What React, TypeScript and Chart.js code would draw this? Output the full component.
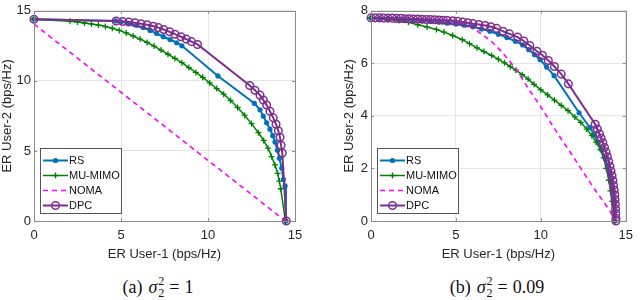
import React, { useEffect, useRef } from 'react';
import { Chart, registerables } from 'chart.js';

Chart.register(...registerables);

// ---------- data ----------
const SERIES_NAMES = ['RS', 'MU-MIMO', 'NOMA', 'DPC'];

// Panel (a): sigma_2^2 = 1
const A_RS_X = [0, 4.7, 5.0, 5.4, 5.9, 6.28, 6.67, 7.05, 7.43, 7.82, 8.2, 8.5, 10.57, 12.66, 12.99, 13.18, 13.37, 13.56, 13.72, 13.85, 13.99, 14.1, 14.24, 14.33, 14.43, 14.48];
const A_RS_Y = [14.4, 14.28, 14.22, 14.12, 13.96, 13.8, 13.6, 13.38, 13.15, 12.95, 12.72, 12.5, 10.35, 8.4, 7.94, 7.48, 7.01, 6.55, 6.09, 5.63, 5.05, 4.47, 3.77, 2.97, 2.5, 0];

const A_MU_X = [0, 2.07, 2.5, 2.9, 3.3, 3.7, 4.1, 4.5, 4.9, 5.3, 5.7, 6.1, 6.5, 6.9, 7.3, 7.7, 8.1, 8.5, 8.9, 9.3, 9.7, 10.1, 10.5, 10.9, 11.3, 11.7, 12.1, 12.5, 12.9, 13.2, 13.45, 13.65, 13.85, 14.0, 14.1, 14.18, 14.45];
const A_MU_Y = [14.4, 14.25, 14.2, 14.13, 14.06, 13.98, 13.88, 13.76, 13.6, 13.42, 13.2, 12.98, 12.74, 12.48, 12.2, 11.9, 11.6, 11.3, 10.95, 10.6, 10.25, 9.85, 9.45, 9.05, 8.6, 8.1, 7.55, 6.95, 6.3, 5.75, 5.2, 4.6, 4.0, 3.4, 2.85, 2.3, 0];

const A_NOMA_X = [0, 14.45];
const A_NOMA_Y = [14.05, 0];

const A_DPC_X = [0, 4.72, 5.1, 5.45, 5.8, 6.15, 6.5, 6.85, 7.15, 7.45, 7.8, 8.1, 8.45, 8.75, 9.05, 9.4, 12.4, 12.7, 12.99, 13.18, 13.37, 13.56, 13.75, 13.91, 14.04, 14.14, 14.2, 14.27, 14.5];
const A_DPC_Y = [14.4, 14.27, 14.24, 14.2, 14.15, 14.08, 14.0, 13.9, 13.8, 13.67, 13.5, 13.33, 13.15, 12.98, 12.8, 12.6, 9.67, 9.33, 8.98, 8.63, 8.28, 7.83, 7.36, 6.9, 6.44, 5.97, 5.4, 4.85, 0];

const A_X_TICKS = [0, 5, 10, 15];
const A_Y_TICKS = [0, 5, 10, 15];

// Panel (b): sigma_2^2 = 0.09
const B_RS_X = [0, 0.5, 1.0, 1.5, 2.0, 2.5, 3.0, 3.5, 4.0, 4.5, 5.0, 5.5, 6.0, 6.5, 7.0, 7.5, 8.0, 8.5, 8.93, 9.29, 9.63, 9.96, 10.34, 10.78, 12.25, 12.9, 13.15, 13.38, 13.58, 13.76, 13.92, 14.05, 14.15, 14.23, 14.3, 14.35];
const B_RS_Y = [7.73, 7.72, 7.71, 7.7, 7.68, 7.66, 7.63, 7.6, 7.57, 7.53, 7.5, 7.45, 7.39, 7.31, 7.22, 7.11, 6.98, 6.84, 6.7, 6.52, 6.33, 6.14, 5.86, 5.53, 4.12, 3.55, 3.28, 3.0, 2.72, 2.42, 2.1, 1.78, 1.45, 1.12, 0.78, 0];

const B_MU_X = [0, 1.0, 1.66, 2.2, 2.75, 3.3, 3.85, 4.3, 4.81, 5.38, 5.8, 6.24, 6.65, 7.1, 7.5, 7.86, 8.2, 8.53, 8.9, 9.25, 9.6, 10.0, 10.4, 10.8, 11.2, 11.6, 12.0, 12.35, 12.7, 13.0, 13.25, 13.5, 13.7, 13.85, 14.0, 14.1, 14.2, 14.3, 14.35];
const B_MU_Y = [7.73, 7.7, 7.63, 7.56, 7.47, 7.38, 7.29, 7.19, 7.06, 6.9, 6.75, 6.59, 6.45, 6.3, 6.16, 6.02, 5.88, 5.74, 5.57, 5.4, 5.2, 4.99, 4.8, 4.6, 4.4, 4.2, 3.96, 3.75, 3.5, 3.25, 3.0, 2.72, 2.4, 2.0, 1.55, 1.15, 0.75, 0.35, 0];

const B_NOMA_X = [0, 2.0, 4.0, 5.5, 6.05, 6.62, 7.1, 7.67, 8.15, 8.63, 9.3, 9.9, 10.6, 11.2, 11.8, 12.9, 14.05, 14.4];
const B_NOMA_Y = [7.73, 7.71, 7.66, 7.52, 7.32, 7.07, 6.83, 6.46, 6.09, 5.71, 5.0, 4.45, 3.72, 3.12, 2.55, 1.46, 0.4, 0];

const B_DPC_X = [0, 0.25, 0.5, 0.75, 1.0, 1.25, 1.5, 1.75, 2.0, 2.25, 2.5, 2.75, 3.0, 3.25, 3.5, 3.75, 4.0, 4.25, 4.5, 4.81, 5.1, 5.4, 5.7, 6.0, 6.35, 6.72, 7.05, 7.4, 7.77, 8.15, 8.63, 9.0, 9.35, 9.77, 10.09, 10.44, 10.8, 11.2, 11.62, 13.2, 13.32, 13.45, 13.55, 13.65, 13.75, 13.84, 13.92, 14.0, 14.07, 14.13, 14.19, 14.24, 14.28, 14.32, 14.35, 14.37, 14.39, 14.4, 14.41, 14.42, 14.42];
const B_DPC_Y = [7.73, 7.73, 7.73, 7.72, 7.72, 7.72, 7.71, 7.71, 7.7, 7.7, 7.69, 7.69, 7.68, 7.67, 7.67, 7.66, 7.65, 7.64, 7.63, 7.62, 7.6, 7.57, 7.54, 7.51, 7.48, 7.44, 7.39, 7.33, 7.22, 7.12, 7.0, 6.85, 6.68, 6.46, 6.31, 6.11, 5.88, 5.59, 5.22, 3.68, 3.5, 3.32, 3.15, 2.98, 2.8, 2.62, 2.44, 2.26, 2.08, 1.9, 1.72, 1.54, 1.36, 1.18, 1.0, 0.82, 0.64, 0.46, 0.28, 0.1, 0];

const B_X_TICKS = [0, 5, 10, 15];
const B_Y_TICKS = [0, 2, 4, 6, 8];

// ---------- styles ----------
const COLORS = ['#0072BD', '#008000', '#FF00FF', '#7E2F8E'];
const AXIS_COLOR = '#8a8a8a';
const TEXT_COLOR = '#262626';
const GRID_COLOR = '#e6e6e6';
const SANS = '"Liberation Sans", Arial, sans-serif';
const RING_R = 3.8;

function pts(xs: number[], ys: number[]) {
  return xs.map((x, i) => ({ x, y: ys[i] }));
}

function drawMarker(ctx: CanvasRenderingContext2D, kind: string, x: number, y: number, color: string) {
  ctx.save();
  ctx.setLineDash([]);
  if (kind === 'dot') {
    ctx.fillStyle = color;
    ctx.beginPath();
    ctx.arc(x, y, 2.6, 0, Math.PI * 2);
    ctx.fill();
  } else if (kind === 'ring') {
    ctx.strokeStyle = color;
    ctx.lineWidth = 1.5;
    ctx.beginPath();
    ctx.arc(x, y, RING_R, 0, Math.PI * 2);
    ctx.stroke();
  } else if (kind === 'cross') {
    ctx.strokeStyle = color;
    ctx.lineWidth = 1.3;
    ctx.beginPath();
    ctx.moveTo(x - 3, y);
    ctx.lineTo(x + 3, y);
    ctx.moveTo(x, y - 3);
    ctx.lineTo(x, y + 3);
    ctx.stroke();
  }
  ctx.restore();
}

const MARKER_KINDS = ['dot', 'cross', 'none', 'ring'];

const framePlugin = {
  id: 'matlabFrame',
  afterDraw(chart: any) {
    const ctx: CanvasRenderingContext2D = chart.ctx;
    const ca = chart.chartArea;
    const xs = chart.scales.x;
    const ys = chart.scales.y;
    ctx.save();
    ctx.strokeStyle = AXIS_COLOR;
    ctx.lineWidth = 1;
    ctx.setLineDash([]);
    ctx.strokeRect(Math.round(ca.left) + 0.5, Math.round(ca.top) + 0.5, Math.round(ca.right - ca.left), Math.round(ca.bottom - ca.top));
    const tl = 3;
    ctx.beginPath();
    xs.ticks.forEach((t: any) => {
      const px = Math.round(xs.getPixelForValue(t.value)) + 0.5;
      ctx.moveTo(px, ca.bottom);
      ctx.lineTo(px, ca.bottom - tl);
      ctx.moveTo(px, ca.top);
      ctx.lineTo(px, ca.top + tl);
    });
    ys.ticks.forEach((t: any) => {
      const py = Math.round(ys.getPixelForValue(t.value)) + 0.5;
      ctx.moveTo(ca.left, py);
      ctx.lineTo(ca.left + tl, py);
      ctx.moveTo(ca.right, py);
      ctx.lineTo(ca.right - tl, py);
    });
    ctx.stroke();

    // legend box inside the plot, lower left
    const w = 81;
    const h = 65;
    const left = Math.round(ca.left) + 6;
    const top = Math.round(ca.bottom) - 8 - h;
    ctx.fillStyle = '#ffffff';
    ctx.fillRect(left, top, w, h);
    ctx.strokeStyle = '#555555';
    ctx.lineWidth = 1;
    ctx.strokeRect(left + 0.5, top + 0.5, w, h);
    ctx.font = '11px ' + SANS;
    ctx.textBaseline = 'middle';
    ctx.textAlign = 'left';
    chart.data.datasets.forEach((ds: any, i: number) => {
      const y = top + 12.5 + i * 15;
      ctx.strokeStyle = ds.borderColor;
      ctx.lineWidth = ds.borderWidth;
      ctx.setLineDash(ds.borderDash || []);
      ctx.beginPath();
      ctx.moveTo(left + 3, y);
      ctx.lineTo(left + 28, y);
      ctx.stroke();
      ctx.setLineDash([]);
      drawMarker(ctx, MARKER_KINDS[i], left + 15.5, y, ds.borderColor);
      ctx.fillStyle = '#111111';
      ctx.fillText(ds.label, left + 29, y + 0.5);
    });
    ctx.restore();
  },
};

type PanelCfg = {
  left: number;
  yWidth: number;
  rightPad: number;
  yTitlePad: number;
  xTicks: number[];
  yTicks: number[];
  yMax: number;
  rs: any;
  mu: any;
  noma: any;
  dpc: any;
};

function Panel({ cfg }: { cfg: PanelCfg }) {
  const ref = useRef<HTMLCanvasElement | null>(null);
  useEffect(() => {
    const canvas = ref.current;
    if (!canvas) return;
    const chart = new Chart(canvas, {
      type: 'line',
      data: {
        datasets: [
          {
            label: SERIES_NAMES[0],
            data: cfg.rs,
            borderColor: COLORS[0],
            backgroundColor: COLORS[0],
            borderWidth: 2,
            pointStyle: 'circle',
            pointRadius: 2.6,
            pointBorderWidth: 0,
            pointBackgroundColor: COLORS[0],
            order: 3,
            clip: false,
          },
          {
            label: SERIES_NAMES[1],
            data: cfg.mu,
            borderColor: COLORS[1],
            backgroundColor: COLORS[1],
            borderWidth: 1.5,
            pointStyle: 'cross',
            pointRadius: 3,
            pointBorderWidth: 1.3,
            pointBorderColor: COLORS[1],
            order: 2,
            clip: false,
          },
          {
            label: SERIES_NAMES[2],
            data: cfg.noma,
            borderColor: COLORS[2],
            backgroundColor: COLORS[2],
            borderWidth: 1.6,
            borderDash: [5, 4],
            pointRadius: 0,
            order: 1,
            clip: false,
          },
          {
            label: SERIES_NAMES[3],
            data: cfg.dpc,
            borderColor: COLORS[3],
            backgroundColor: 'rgba(0,0,0,0)',
            borderWidth: 2,
            pointStyle: 'circle',
            pointRadius: RING_R,
            pointBorderWidth: 1.5,
            pointBorderColor: COLORS[3],
            pointBackgroundColor: 'rgba(255,255,255,0)',
            order: 0,
            clip: false,
          },
        ] as any,
      },
      options: {
        animation: false,
        responsive: false,
        events: [],
        layout: { padding: { left: 0, right: cfg.rightPad, top: 6, bottom: 0 } },
        plugins: { legend: { display: false }, tooltip: { enabled: false } },
        elements: { line: { tension: 0 } },
        scales: {
          x: {
            type: 'linear',
            min: 0,
            max: 15,
            afterBuildTicks: (s: any) => {
              s.ticks = cfg.xTicks.map((v) => ({ value: v }));
            },
            afterFit: (s: any) => {
              s.height = 41;
            },
            grid: { color: GRID_COLOR, drawTicks: false, lineWidth: 1 },
            border: { display: false },
            ticks: {
              color: TEXT_COLOR,
              font: { family: SANS, size: 13 },
              padding: 7,
              maxRotation: 0,
              autoSkip: false,
            },
            title: {
              display: true,
              text: 'ER User-1 (bps/Hz)',
              color: TEXT_COLOR,
              font: { family: SANS, size: 13 },
              padding: { top: 0, bottom: 0 },
            },
          },
          y: {
            type: 'linear',
            min: 0,
            max: cfg.yMax,
            afterBuildTicks: (s: any) => {
              s.ticks = cfg.yTicks.map((v) => ({ value: v }));
            },
            afterFit: (s: any) => {
              s.width = cfg.yWidth;
            },
            grid: { color: GRID_COLOR, drawTicks: false, lineWidth: 1 },
            border: { display: false },
            ticks: {
              color: TEXT_COLOR,
              font: { family: SANS, size: 13 },
              padding: 3,
              autoSkip: false,
            },
            title: {
              display: true,
              text: 'ER User-2 (bps/Hz)',
              color: TEXT_COLOR,
              font: { family: SANS, size: 13 },
              padding: { top: cfg.yTitlePad, bottom: 0 },
            },
          },
        },
      } as any,
      plugins: [framePlugin],
    });
    return () => chart.destroy();
  }, []);
  return (
    <div style={{ position: 'absolute', left: cfg.left, top: 0, width: 320, height: 262 }}>
      <canvas ref={ref} width={320} height={262} />
    </div>
  );
}

function Caption({ label, value, center }: { label: string; value: string; center: number }) {
  return (
    <div
      style={{
        position: 'absolute',
        left: center - 100,
        width: 200,
        top: 277,
        textAlign: 'center',
        fontFamily: '"Liberation Serif", "Times New Roman", serif',
        fontSize: 18,
        lineHeight: '20px',
        color: '#111',
        whiteSpace: 'nowrap',
      }}
    >
      {label}
      <span style={{ marginLeft: 6 }} />
      <i>σ</i>
      <span style={{ display: 'inline-block', position: 'relative', width: 7, height: 0 }}>
        <span style={{ position: 'absolute', left: 1, top: -18, fontSize: 12, lineHeight: '12px' }}>2</span>
        <span style={{ position: 'absolute', left: 1, top: -6, fontSize: 12, lineHeight: '12px' }}>2</span>
      </span>
      <span style={{ margin: '0 5px' }}>=</span>
      {value}
    </div>
  );
}

export default function App() {
  const panelA: PanelCfg = {
    left: 0,
    yWidth: 34,
    rightPad: 25,
    yTitlePad: 0,
    xTicks: A_X_TICKS,
    yTicks: A_Y_TICKS,
    yMax: 15,
    rs: pts(A_RS_X, A_RS_Y),
    mu: pts(A_MU_X, A_MU_Y),
    noma: pts(A_NOMA_X, A_NOMA_Y),
    dpc: pts(A_DPC_X, A_DPC_Y),
  };
  const panelB: PanelCfg = {
    left: 320,
    yWidth: 51,
    rightPad: 7,
    yTitlePad: 22,
    xTicks: B_X_TICKS,
    yTicks: B_Y_TICKS,
    yMax: 8,
    rs: pts(B_RS_X, B_RS_Y),
    mu: pts(B_MU_X, B_MU_Y),
    noma: pts(B_NOMA_X, B_NOMA_Y),
    dpc: pts(B_DPC_X, B_DPC_Y),
  };
  return (
    <div style={{ position: 'fixed', left: 0, top: 0, width: 640, height: 300, background: '#fff', overflow: 'hidden' }}>
      <Panel cfg={panelA} />
      <Panel cfg={panelB} />
      <Caption label="(a)" value="1" center={158} />
      <Caption label="(b)" value="0.09" center={497} />
    </div>
  );
}
